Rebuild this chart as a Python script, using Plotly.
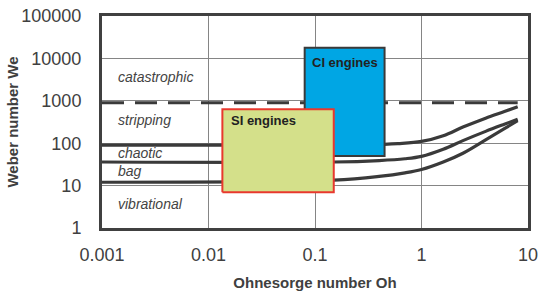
import numpy as np
import plotly.graph_objects as go

# ---- data ----
oh_upper = [0.001, 0.1, 0.3, 0.6, 1.0, 1.6, 2.45, 4.0, 6.0, 8.0]
we_upper = [90, 90, 92, 98, 110, 150, 240, 390, 560, 725]

oh_mid = [0.001, 0.15, 0.4, 0.7, 1.0, 1.6, 2.45, 4.0, 6.0, 8.0]
we_mid = [36, 36, 39, 43, 49, 72, 115, 190, 280, 366]

oh_low = [0.001, 0.15, 0.4, 0.7, 1.0, 1.6, 2.45, 4.0, 6.0, 8.0]
we_low = [12, 13.5, 16.5, 20, 24, 36, 58, 120, 220, 340]

oh_dash = [0.001, 8.0]
we_dash = [900, 900]

ci_box = {"oh": [0.08, 0.45], "we": [50, 17800], "label": "CI engines"}
si_box = {"oh": [0.0135, 0.15], "we": [7, 630], "label": "SI engines"}

regime_labels = ["catastrophic", "stripping", "chaotic", "bag", "vibrational"]
regime_we = [3600, 350, 59, 22, 3.7]
regime_oh = 0.00135

x_ticks = [0.001, 0.01, 0.1, 1, 10]
x_ticktext = ["0.001", "0.01", "0.1", "1", "10"]
y_ticks = [1, 10, 100, 1000, 10000, 100000]
y_ticktext = ["1", "10", "100", "1000", "10000", "100000"]

LINE = "#3a3a3a"
FONT = "Liberation Sans, Arial, sans-serif"

fig = go.Figure()

for xs, ys in [(oh_upper, we_upper), (oh_mid, we_mid), (oh_low, we_low)]:
    fig.add_trace(go.Scatter(x=xs, y=ys, mode="lines",
                             line=dict(color=LINE, width=3.2, shape="spline", smoothing=1.0),
                             hoverinfo="skip", showlegend=False))

fig.add_trace(go.Scatter(x=oh_dash, y=we_dash, mode="lines",
                         line=dict(color=LINE, width=3, dash="22px,11px"),
                         hoverinfo="skip", showlegend=False))


def box(b, fill, edge, width):
    x0, x1 = b["oh"]
    y0, y1 = b["we"]
    return go.Scatter(x=[x0, x1, x1, x0, x0], y=[y0, y0, y1, y1, y0],
                      mode="lines", fill="toself", fillcolor=fill,
                      line=dict(color=edge, width=width),
                      hoverinfo="skip", showlegend=False)


fig.add_trace(box(ci_box, "#00a6e4", "#3a3a3a", 2))
fig.add_trace(box(si_box, "#d4e08a", "#e8382e", 2))

# regime labels
for t, w in zip(regime_labels, regime_we):
    fig.add_annotation(x=np.log10(regime_oh), y=np.log10(w), text=f"<i>{t}</i>",
                       xanchor="left", yanchor="middle", showarrow=False,
                       font=dict(family=FONT, size=14, color="#444444"))

fig.add_annotation(x=np.log10(np.sqrt(ci_box["oh"][0] * ci_box["oh"][1])), y=np.log10(8100),
                   text=f"<b>{ci_box['label']}</b>", showarrow=False,
                   xanchor="center", yanchor="middle",
                   font=dict(family=FONT, size=13, color="#222222"))
fig.add_annotation(x=np.log10(0.033), y=np.log10(350),
                   text=f"<b>{si_box['label']}</b>", showarrow=False,
                   xanchor="center", yanchor="middle",
                   font=dict(family=FONT, size=13, color="#222222"))

fig.update_layout(
    width=539, height=295,
    margin=dict(l=102, r=11, t=16, b=67),
    paper_bgcolor="white", plot_bgcolor="white",
    font=dict(family=FONT, color="#404040"),
    xaxis=dict(type="log", range=[-3, 1], tickvals=x_ticks, ticktext=x_ticktext,
               showgrid=True, gridcolor="#858585", gridwidth=1, automargin=False,
               showline=True, linecolor="#404040", linewidth=3, mirror=True,
               ticks="outside", ticklen=8, tickcolor="rgba(0,0,0,0)",
               ticklabeloverflow="allow",
               tickfont=dict(size=18, color="#404040"), zeroline=False,
               title=dict(text="<b>Ohnesorge number Oh</b>", standoff=14,
                          font=dict(size=15, color="#404040"))),
    yaxis=dict(type="log", range=[0, 5], tickvals=y_ticks, ticktext=y_ticktext,
               showgrid=True, gridcolor="#858585", gridwidth=1, automargin=False,
               showline=True, linecolor="#404040", linewidth=3, mirror=True,
               ticks="outside", ticklen=14, tickcolor="rgba(0,0,0,0)",
               ticklabeloverflow="allow",
               tickfont=dict(size=18, color="#404040"), zeroline=False,
               title=dict(text="<b>Weber number We</b>", standoff=0,
                          font=dict(size=15, color="#404040"))),
)

page_css = ("document.documentElement.style.margin='0';"
            "document.body.style.margin='0';"
            "document.body.style.overflow='hidden';"
            "document.documentElement.style.overflow='hidden';")

fig.write_html("out.html", post_script=page_css, config={"displayModeBar": False})
